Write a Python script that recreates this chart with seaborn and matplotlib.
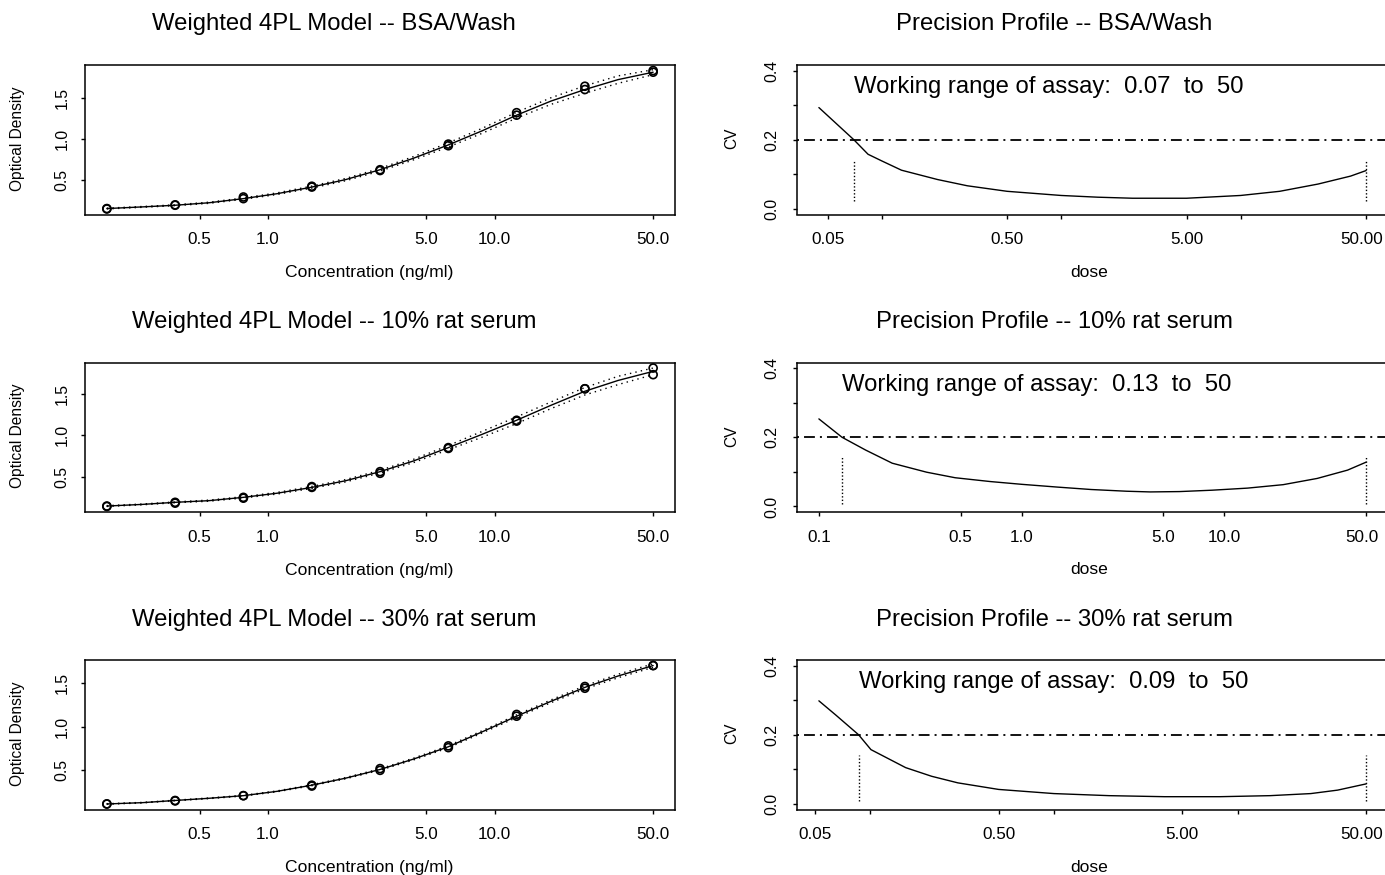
import numpy as np
import pandas as pd
import matplotlib
matplotlib.use("Agg")
import matplotlib.pyplot as plt
import matplotlib.transforms as mtransforms
from matplotlib.ticker import NullLocator
import seaborn as sns

# ---------------- data ----------------
panel_names = ["BSA/Wash", "10% rat serum", "30% rat serum"]

# standards (two replicates per dose)
std_dose = [0.195, 0.39, 0.78, 1.5625, 3.125, 6.25, 12.5, 25, 50]
od_bsa_a = [0.155, 0.200, 0.280, 0.420, 0.620, 0.920, 1.290, 1.600, 1.810]
od_bsa_b = [0.160, 0.205, 0.300, 0.430, 0.630, 0.940, 1.320, 1.640, 1.830]
od_r10_a = [0.140, 0.180, 0.240, 0.370, 0.540, 0.840, 1.170, 1.560, 1.730]
od_r10_b = [0.145, 0.190, 0.250, 0.380, 0.560, 0.850, 1.180, 1.560, 1.810]
od_r30_a = [0.115, 0.150, 0.210, 0.320, 0.500, 0.760, 1.120, 1.440, 1.700]
od_r30_b = [0.115, 0.155, 0.210, 0.330, 0.520, 0.780, 1.140, 1.460, 1.700]

# fitted weighted 4PL curves and their dotted bands
curve_dose = [0.195, 0.28, 0.39, 0.55, 0.78, 1.1, 1.5625, 2.2, 3.125, 4.4,
              6.25, 8.8, 12.5, 17.7, 25, 35, 50]
fit_bsa = [0.16, 0.18, 0.20, 0.23, 0.28, 0.34, 0.42, 0.51, 0.63, 0.77,
           0.93, 1.10, 1.29, 1.46, 1.60, 1.72, 1.81]
upr_bsa = [0.165, 0.185, 0.205, 0.237, 0.288, 0.35, 0.432, 0.524, 0.646, 0.79,
           0.955, 1.13, 1.325, 1.50, 1.645, 1.765, 1.84]
lwr_bsa = [0.155, 0.175, 0.195, 0.223, 0.272, 0.33, 0.408, 0.496, 0.614, 0.75,
           0.905, 1.07, 1.255, 1.42, 1.555, 1.675, 1.78]
fit_r10 = [0.145, 0.165, 0.19, 0.21, 0.25, 0.30, 0.37, 0.45, 0.56, 0.69,
           0.85, 1.01, 1.18, 1.36, 1.53, 1.66, 1.77]
upr_r10 = [0.15, 0.17, 0.195, 0.217, 0.258, 0.31, 0.382, 0.464, 0.576, 0.71,
           0.875, 1.045, 1.22, 1.40, 1.575, 1.71, 1.81]
lwr_r10 = [0.14, 0.16, 0.185, 0.203, 0.242, 0.29, 0.358, 0.436, 0.544, 0.67,
           0.825, 0.975, 1.14, 1.32, 1.485, 1.61, 1.73]
fit_r30 = [0.115, 0.13, 0.155, 0.18, 0.21, 0.26, 0.33, 0.41, 0.51, 0.63,
           0.77, 0.94, 1.12, 1.29, 1.45, 1.58, 1.70]
upr_r30 = [0.118, 0.133, 0.158, 0.184, 0.214, 0.265, 0.336, 0.417, 0.518, 0.64,
           0.782, 0.953, 1.135, 1.306, 1.468, 1.60, 1.72]
lwr_r30 = [0.112, 0.127, 0.152, 0.176, 0.206, 0.255, 0.324, 0.403, 0.502, 0.62,
           0.758, 0.927, 1.105, 1.274, 1.432, 1.56, 1.68]

# precision profiles
pp_dose_bsa = [0.0447, 0.055, 0.07, 0.084, 0.1, 0.129, 0.205, 0.30, 0.5, 1.0,
               1.6, 2.5, 5, 10, 16.5, 27, 41, 50]
pp_cv_bsa = [0.293, 0.250, 0.200, 0.158, 0.139, 0.112, 0.085, 0.067, 0.051, 0.039,
             0.034, 0.031, 0.031, 0.039, 0.051, 0.072, 0.095, 0.111]
pp_dose_r10 = [0.1, 0.13, 0.17, 0.23, 0.34, 0.47, 0.7, 1.0, 1.5, 2.2, 3.3, 4.3,
               6, 8.7, 13, 19.5, 28.7, 40.5, 50]
pp_cv_r10 = [0.253, 0.200, 0.163, 0.125, 0.099, 0.083, 0.072, 0.064, 0.056, 0.049,
             0.044, 0.042, 0.043, 0.047, 0.053, 0.063, 0.081, 0.105, 0.128]
pp_dose_r30 = [0.0526, 0.065, 0.0865, 0.101, 0.156, 0.216, 0.30, 0.5, 1.0, 2, 4,
               8, 15, 25, 35, 50]
pp_cv_r30 = [0.298, 0.257, 0.200, 0.157, 0.105, 0.080, 0.061, 0.042, 0.030, 0.024,
             0.021, 0.021, 0.024, 0.030, 0.040, 0.058]

cv_cutoff = 0.2
range_low = [0.07, 0.13, 0.0865]
range_low_lab = ["0.07", "0.13", "0.09"]
range_high = 50
range_high_lab = "50"
vline_bottom = [0.022, 0.008, 0.008]
vline_top = [0.142, 0.142, 0.142]

od_ticks = [0.5, 1.0, 1.5]
od_tick_labels = ["0.5", "1.0", "1.5"]
conc_ticks = [0.5, 1, 5, 10, 50]
conc_tick_labels = ["0.5", "1.0", "5.0", "10.0", "50.0"]
cv_ticks = [0.0, 0.1, 0.2, 0.3, 0.4]
cv_tick_labels = ["0.0", "", "0.2", "", "0.4"]
dose_ticks = [[0.05, 0.1, 0.5, 1, 5, 10, 50],
              [0.1, 0.5, 1, 5, 10, 50],
              [0.05, 0.1, 0.5, 1, 5, 10, 50]]
dose_tick_labels = [["0.05", "", "0.50", "", "5.00", "", "50.00"],
                    ["0.1", "0.5", "1.0", "5.0", "10.0", "50.0"],
                    ["0.05", "", "0.50", "", "5.00", "", "50.00"]]

# ---------------- styling ----------------
sns.set_theme(style="ticks", rc={
    "axes.edgecolor": "black", "text.color": "black", "axes.labelcolor": "black",
    "xtick.color": "black", "ytick.color": "black",
})
plt.rcParams['font.family'] = ['Liberation Sans', 'DejaVu Sans']

W, H = 1385, 875
fig = plt.figure(figsize=(W / 100, H / 100), dpi=100)
fig.patch.set_facecolor("white")


def px_axes(left, top, right, bottom):
    return fig.add_axes([left / W, 1 - bottom / H, (right - left) / W, (bottom - top) / H])


def ext_log(lo, hi):
    a, b = np.log10(lo), np.log10(hi)
    d = 0.04 * (b - a)
    return 10 ** (a - d), 10 ** (b + d)


def ext_lin(lo, hi):
    d = 0.04 * (hi - lo)
    return lo - d, hi + d


def style_box(ax):
    for s in ax.spines.values():
        s.set_visible(True)
        s.set_color("black")
        s.set_linewidth(1.1)
    ax.set_facecolor("white")
    ax.grid(False)


row_tops = [65, 362.5, 660]
box_h = 149.5
title_y = [24, 322, 620]
tick_fs = 12.3

reps_a = [od_bsa_a, od_r10_a, od_r30_a]
reps_b = [od_bsa_b, od_r10_b, od_r30_b]
fits = [fit_bsa, fit_r10, fit_r30]
uprs = [upr_bsa, upr_r10, upr_r30]
lwrs = [lwr_bsa, lwr_r10, lwr_r30]
pp_doses = [pp_dose_bsa, pp_dose_r10, pp_dose_r30]
pp_cvs = [pp_cv_bsa, pp_cv_r10, pp_cv_r30]

for i, name in enumerate(panel_names):
    top = row_tops[i]
    # ---------- left: standard curve ----------
    ax = px_axes(85, top, 675, top + box_h)
    style_box(ax)
    ax.set_xscale("log")
    df_fit = pd.DataFrame({"dose": curve_dose, "fit": fits[i],
                           "upr": uprs[i], "lwr": lwrs[i]})
    sns.lineplot(data=df_fit, x="dose", y="fit", ax=ax, color="black", lw=1.0,
                 estimator=None, sort=False)
    for col in ["upr", "lwr"]:
        sns.lineplot(data=df_fit, x="dose", y=col, ax=ax, color="black", lw=1.0,
                     estimator=None, sort=False, linestyle=(0, (1, 3)))
    df_pts = pd.DataFrame({"dose": std_dose + std_dose, "od": reps_a[i] + reps_b[i]})
    sns.scatterplot(data=df_pts, x="dose", y="od", ax=ax, marker="o", s=33,
                    facecolors="none", edgecolor="black", linewidth=1.2, zorder=3)
    allv = reps_a[i] + reps_b[i] + fits[i]
    ax.set_xlim(*ext_log(min(std_dose), max(std_dose)))
    ax.set_ylim(*ext_lin(min(allv), max(allv)))
    ax.set_xticks(conc_ticks)
    ax.set_xticklabels(conc_tick_labels, fontsize=tick_fs, va="center")
    ax.xaxis.set_minor_locator(NullLocator())
    ax.set_yticks(od_ticks)
    ax.set_yticklabels(od_tick_labels, fontsize=11.4, rotation=90, va="center", ha="center")
    ax.tick_params(axis="x", which="major", direction="out", length=3.2, width=1,
                   pad=14.8, bottom=True, top=False)
    ax.tick_params(axis="y", which="major", direction="out", length=3.2, width=1,
                   pad=13.3, left=True, right=False)
    ax.set_xlabel("Concentration (ng/ml)", fontsize=12.6)
    ax.xaxis.set_label_coords(0.482, -(272 - 214) / box_h)
    ax.xaxis.label.set_va("center")
    ax.set_ylabel("Optical Density", fontsize=11.2)
    ax.yaxis.set_label_coords((18 - 85) / 590, 0.508)
    ax.yaxis.label.set_va("center")
    fig.text(334 / W, 1 - title_y[i] / H, f"Weighted 4PL Model -- {name}",
             ha="center", va="center", fontsize=17.2)

    # ---------- right: precision profile ----------
    ax2 = px_axes(797, top, 1388, top + box_h)
    style_box(ax2)
    ax2.set_xscale("log")
    df_pp = pd.DataFrame({"dose": pp_doses[i], "cv": pp_cvs[i]})
    sns.lineplot(data=df_pp, x="dose", y="cv", ax=ax2, color="black", lw=1.0,
                 estimator=None, sort=False)
    ax2.axhline(cv_cutoff, color="black", lw=1.3, linestyle=(0, (1.1, 2.8, 6, 2.8)))
    ax2.vlines([range_low[i], range_high], vline_bottom[i], vline_top[i],
               colors="black", lw=1.0, linestyles=[(0, (1, 1.5))])
    ax2.text(range_low[i], 0.352,
             f"Working range of assay:  {range_low_lab[i]}  to  {range_high_lab}",
             ha="left", va="center", fontsize=17.2)
    ax2.set_xlim(*ext_log(pp_doses[i][0], pp_doses[i][-1]))
    ax2.set_ylim(*ext_lin(0.0, 0.4))
    ax2.set_xticks(dose_ticks[i])
    ax2.set_xticklabels(dose_tick_labels[i], fontsize=tick_fs, va="center")
    ax2.xaxis.set_minor_locator(NullLocator())
    ax2.set_yticks(cv_ticks)
    ax2.set_yticklabels(cv_tick_labels, fontsize=11.4, rotation=90, va="center", ha="center")
    ax2.tick_params(axis="x", which="major", direction="out", length=3.2, width=1,
                    pad=14.8, bottom=True, top=False)
    ax2.tick_params(axis="y", which="major", direction="out", length=3.2, width=1,
                    pad=15.0, left=True, right=False)
    # keep the last tick label inside the figure, as in the reference
    last_lab = ax2.get_xticklabels()[-1]
    last_lab.set_transform(last_lab.get_transform() +
                           mtransforms.ScaledTranslation(-4.5 / 100, 0, fig.dpi_scale_trans))
    ax2.set_xlabel("dose", fontsize=12.6)
    ax2.xaxis.set_label_coords(0.494, -(272 - 214) / box_h)
    ax2.xaxis.label.set_va("center")
    ax2.set_ylabel("CV", fontsize=11.2)
    ax2.yaxis.set_label_coords((732 - 797) / 591, 0.51)
    ax2.yaxis.label.set_va("center")
    fig.text(1054 / W, 1 - title_y[i] / H, f"Precision Profile -- {name}",
             ha="center", va="center", fontsize=17.2)

fig.savefig("out.png", dpi=100, facecolor="white")
